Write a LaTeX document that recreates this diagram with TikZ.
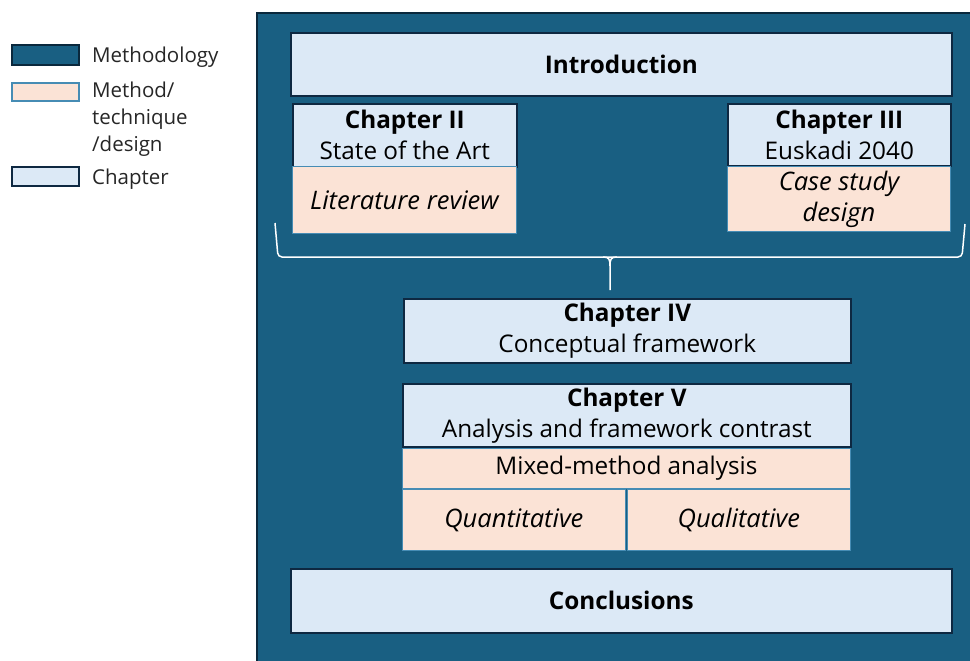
\documentclass[tikz,border=0pt]{standalone}
\usepackage{fontspec}
\setmainfont{Open Sans}
\definecolor{panelblue}{RGB}{25,95,130}
\definecolor{paneldraw}{RGB}{10,40,60}
\definecolor{chapfill}{RGB}{220,233,246}
\definecolor{chapdraw}{RGB}{14,40,65}
\definecolor{methfill}{RGB}{251,227,214}
\definecolor{methdraw}{RGB}{70,140,180}

\begin{document}
\begin{tikzpicture}[x=1pt,y=-1pt,
  every node/.style={font=\fontsize{24.3}{31}\selectfont,inner sep=0pt,
    align=center,anchor=north west,text=black},
  panelbox/.style={draw=paneldraw,line width=2pt,fill=panelblue},
  chapbox/.style={draw=chapdraw,line width=1.6pt,fill=chapfill},
  methbox/.style={draw=methdraw,line width=0.8pt,fill=methfill},
  ittext/.style={font=\fontsize{25.5}{31}\selectfont\itshape},
  legbox/.style={minimum width=67pt,line width=1.6pt},
  legtext/.style={font=\fontsize{20.5}{27}\selectfont,align=left,text=black!85},
  bracestroke/.style={draw=white,line width=1.5pt}]
\useasboundingbox (0,0) rectangle (970,661);

% legend
\node[legbox,minimum height=20pt,draw=paneldraw,fill=panelblue] (legmeth) at (11,44) {};
\node[legbox,minimum height=18pt,draw=methdraw,fill=methfill] (legtech) at (11,82) {};
\node[legbox,minimum height=19pt,draw=chapdraw,fill=chapfill] (legchap) at (11,166) {};
\node[legtext,anchor=west] (legmethtxt) at (92,57) {Methodology};
\node[legtext] (legtechtxt) at (92,82) {Method/\\technique\\/design};
\node[legtext,anchor=west] (legchaptxt) at (92,179) {Chapter};

% methodology panel
\node[panelbox,minimum width=740pt,minimum height=680pt] (panel) at (256,12) {};

% chapters
\node[chapbox,minimum width=661pt,minimum height=63pt] (intro) at (290,32) {\textbf{Introduction}};
\node[chapbox,minimum width=224pt,minimum height=63pt] (ch2) at (292,103) {\textbf{Chapter II}\\State of the Art};
\node[methbox,ittext,minimum width=224pt,minimum height=67pt] (litrev) at (292,166) {Literature review};
\node[chapbox,minimum width=223pt,minimum height=62pt] (ch3) at (727,103) {\textbf{Chapter III}\\Euskadi 2040};
\node[methbox,ittext,minimum width=223pt,minimum height=65pt] (casestudy) at (727,166) {Case study\\design};

% brace
\coordinate (braceL) at (275,223);
\coordinate (braceR) at (965,224);
\coordinate (braceTip) at (610,290);
\draw[bracestroke,rounded corners=4pt] (braceL) -- (278,257) -- (962,257) -- (braceR);
\draw[bracestroke] (603,257) .. controls (609,257) and (610,259) .. (610,266) -- (braceTip);
\draw[bracestroke] (617,257) .. controls (611,257) and (610,259) .. (610,266);

\node[chapbox,minimum width=447pt,minimum height=64pt] (ch4) at (403,298) {\textbf{Chapter IV}\\Conceptual framework};
\node[chapbox,minimum width=448pt,minimum height=63pt] (ch5) at (402,383) {\textbf{Chapter V}\\Analysis and framework contrast};
\node[methbox,minimum width=448pt,minimum height=40pt] (mixed) at (402,448) {Mixed-method analysis};
\node[methbox,ittext,minimum width=223pt,minimum height=61pt] (quant) at (402,489) {Quantitative};
\node[methbox,ittext,minimum width=223pt,minimum height=61pt] (qual) at (627,489) {Qualitative};

\node[chapbox,minimum width=661pt,minimum height=64pt] (concl) at (290,568) {\textbf{Conclusions}};
\end{tikzpicture}
\end{document}
